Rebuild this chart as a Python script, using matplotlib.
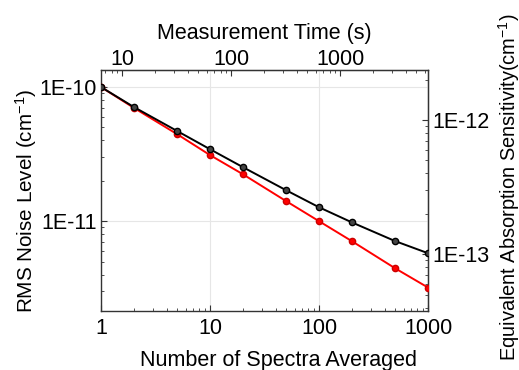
import numpy as np
import matplotlib
matplotlib.use('Agg')
import matplotlib.pyplot as plt
from matplotlib.ticker import FuncFormatter, LogLocator, NullFormatter

plt.rcParams['font.family'] = ['Liberation Sans', 'DejaVu Sans']
plt.rcParams['mathtext.default'] = 'regular'

# Number of spectra averaged
n_spectra = [1, 2, 5, 10, 20, 50, 100, 200, 500, 1000]
# RMS noise level (cm-1)
noise_measured = [1.0e-10, 7.1e-11, 4.7e-11, 3.44e-11, 2.53e-11, 1.70e-11,
                  1.27e-11, 9.8e-12, 7.1e-12, 5.77e-12]
noise_ideal = [1.0e-10, 7.0e-11, 4.45e-11, 3.11e-11, 2.24e-11, 1.41e-11,
               1.0e-11, 7.1e-12, 4.45e-12, 3.2e-12]

sec_per_spectrum = 6.4      # top axis: measurement time
abs_factor = 0.01762        # right axis: equivalent absorption sensitivity

FS = 15.5

fig = plt.figure(figsize=(5.19, 3.70), dpi=100)
ax = fig.add_axes([0.1946, 0.1595, 0.6301, 0.6513])

ax.plot(n_spectra, noise_ideal, color='#ff0000', lw=1.4, marker='o', ms=4.5,
        mec='#cc0000', zorder=3)
ax.plot(n_spectra, noise_measured, color='black', lw=1.4, marker='o', ms=4.5,
        mfc='#444444', mec='black', zorder=4)

ax.set_xscale('log')
ax.set_yscale('log')
ax.set_xlim(1, 1000)
ax.set_ylim(2.14e-12, 1.34e-10)

def sci_fmt(v, pos):
    e = int(round(np.log10(v)))
    return '1E%d' % e

ax.yaxis.set_major_locator(LogLocator(base=10, numticks=10))
ax.yaxis.set_major_formatter(FuncFormatter(sci_fmt))
ax.yaxis.set_minor_formatter(NullFormatter())
ax.xaxis.set_major_formatter(FuncFormatter(lambda v, p: '%d' % round(v)))
ax.xaxis.set_minor_formatter(NullFormatter())

ax.grid(True, which='major', color='#e6e6e6', lw=0.8)
ax.set_axisbelow(True)

for sp in ax.spines.values():
    sp.set_color('#333333')
    sp.set_linewidth(1.0)

ax.tick_params(which='both', direction='in', labelsize=FS, colors='#333333',
               labelcolor='black')
ax.tick_params(which='major', length=4)
ax.tick_params(which='minor', length=2)
ax.tick_params(axis='x', pad=5)
ax.tick_params(axis='y', pad=3)

ax.set_xlabel('Number of Spectra Averaged', fontsize=FS, labelpad=8)
ax.xaxis.label.set_x(0.544)
ax.set_ylabel('RMS Noise Level (cm$^{-1}$)', fontsize=14.9, labelpad=0)
ax.yaxis.label.set_y(0.456)

# top axis: measurement time
top = ax.secondary_xaxis('top', functions=(lambda n: n * sec_per_spectrum,
                                           lambda t: t / sec_per_spectrum))
top.xaxis.set_major_formatter(FuncFormatter(lambda v, p: '%d' % round(v)))
top.xaxis.set_minor_formatter(NullFormatter())
top.tick_params(which='both', direction='in', labelsize=FS, colors='#333333',
                labelcolor='black', pad=0)
top.tick_params(which='major', length=4)
top.tick_params(which='minor', length=2)
top.set_xlabel('Measurement Time (s)', fontsize=FS, labelpad=7)

# right axis: equivalent absorption sensitivity
right = ax.secondary_yaxis('right', functions=(lambda y: y * abs_factor,
                                               lambda a: a / abs_factor))
right.yaxis.set_major_formatter(FuncFormatter(sci_fmt))
right.yaxis.set_minor_formatter(NullFormatter())
right.tick_params(which='both', direction='in', labelsize=FS, colors='#333333',
                  labelcolor='black', pad=3)
right.tick_params(which='major', length=4)
right.tick_params(which='minor', length=2)
right.set_ylabel('Equivalent Absorption Sensitivity(cm$^{-1}$)', fontsize=14.4,
                 labelpad=5)
right.yaxis.label.set_y(0.515)

fig.savefig('out.png', dpi=100)
